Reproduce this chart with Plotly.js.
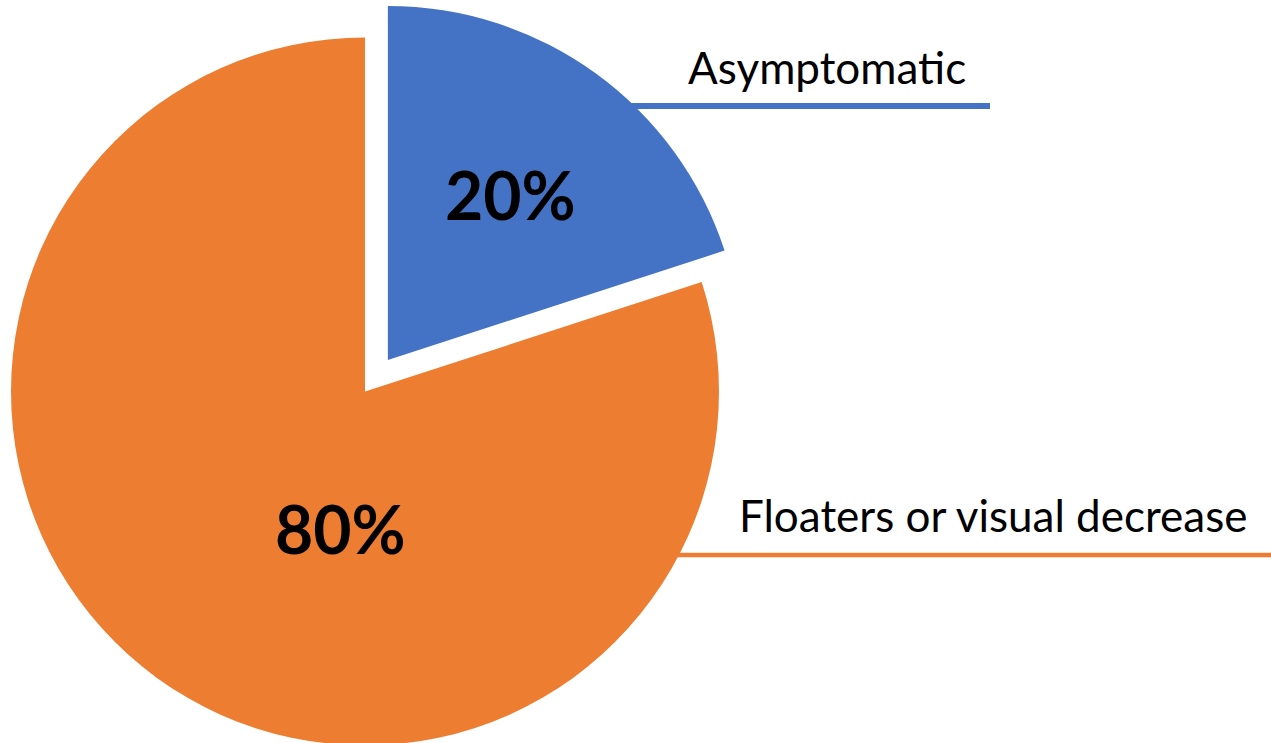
<!DOCTYPE html>
<html>
<head>
<meta charset="utf-8">
<script src="https://cdn.plot.ly/plotly-3.0.1.min.js"></script>
<style>
  html, body { margin: 0; padding: 0; width: 1271px; height: 743px; overflow: hidden; background: #fff; }
  #chart { position: absolute; left: -40px; top: -10px; width: 1311px; height: 800px; }
</style>
</head>
<body>
<div id="chart"></div>
<script>
// ---- data ----
var categories = ["Asymptomatic", "Floaters or visual decrease"];
var values = [20, 80];
var colors = ["#4472C4", "#ED7D31"];

// ---- geometry (page pixels) ----
var DIV_L = -40, DIV_T = -10, W = 1311, H = 800;
var CX = 365, CY = 391.5, R = 354, PULL = 0.11;
function px(X) { return (X - DIV_L) / W; }
function py(Y) { return 1 - (Y - DIV_T) / H; }
var half = R * (1 + PULL);

var total = values.reduce(function (a, b) { return a + b; }, 0);
var pctText = values.map(function (v) { return Math.round(v / total * 100) + "%"; });

var trace = {
  type: "pie",
  labels: categories,
  values: values,
  sort: false,
  direction: "clockwise",
  rotation: 0,
  pull: [PULL, 0],
  marker: { colors: colors, line: { width: 0 } },
  textinfo: "none",
  hoverinfo: "label+percent",
  showlegend: false,
  domain: { x: [px(CX - half), px(CX + half)], y: [py(CY + half), py(CY - half)] }
};

var annotations = [
  { x: px(510.5), y: py(195), text: "<b>" + pctText[0] + "</b>" },
  { x: px(340.5), y: py(528), text: "<b>" + pctText[1] + "</b>" }
].map(function (a) {
  return Object.assign(a, { xref: "paper", yref: "paper", showarrow: false, xanchor: "center", yanchor: "middle",
    font: { family: "Lato, sans-serif", size: 66, color: "#000" } });
});
annotations.push(
  { x: px(686), y: py(67), text: categories[0] },
  { x: px(737), y: py(515), text: categories[1] }
);
for (var i = 2; i < annotations.length; i++) {
  Object.assign(annotations[i], { xref: "paper", yref: "paper", showarrow: false, xanchor: "left", yanchor: "middle",
    font: { family: "Lato, sans-serif", size: 44, color: "#000" } });
}

var shapes = [
  { type: "line", xref: "paper", yref: "paper", x0: px(620), x1: px(990), y0: py(106), y1: py(106),
    line: { color: colors[0], width: 6 }, layer: "below" },
  { type: "line", xref: "paper", yref: "paper", x0: px(670), x1: px(1275), y0: py(555), y1: py(555),
    line: { color: colors[1], width: 4.5 }, layer: "below" }
];

var layout = {
  width: W, height: H,
  margin: { l: 0, r: 0, t: 0, b: 0, pad: 0 },
  paper_bgcolor: "#ffffff",
  plot_bgcolor: "#ffffff",
  annotations: annotations,
  shapes: shapes,
  showlegend: false
};

Plotly.newPlot("chart", [trace], layout, { displayModeBar: false, staticPlot: true });
</script>
</body>
</html>
